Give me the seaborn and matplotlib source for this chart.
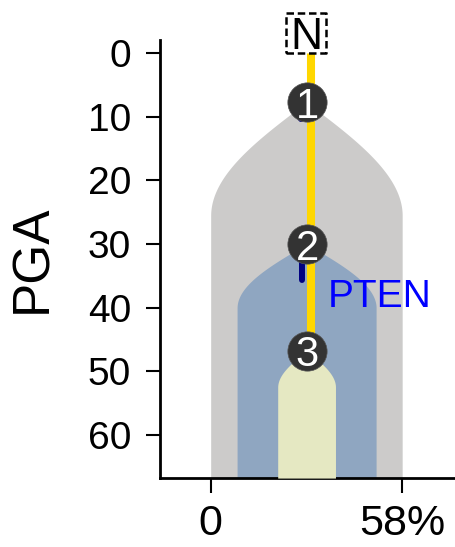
import numpy as np
import pandas as pd
import seaborn as sns
import matplotlib.pyplot as plt

# clone data (x in %, y in PGA)
clone_ids = ['1', '2', '3']
clone_left = [0.0, 8.0, 20.3]
clone_right = [58.0, 50.1, 37.8]
clone_start = [7.7, 30.0, 46.8]    # PGA where the clone is born (node position)
clone_full = [25.5, 40.0, 52.5]    # PGA where the clone reaches full width
clone_colors = ['#cccbca', '#8fa6c1', '#e5e8c2']
node_x = [29.2, 29.2, 29.2]

# trunk line from normal (N) to last node
trunk_x = [30.4, 30.4]
trunk_y = [-0.4, 46.8]
root_x, root_y = 29.0, -3.2

# mutation segments (navy) per node
mut_x = [27.5, 27.6]
mut_y0 = [7.7, 30.0]
mut_y1 = [10.4, 35.7]
driver_label = 'PTEN'
driver_x, driver_y = 35.6, 38.4

xticks = [0, 58]
xticklabels = ['0', '58%']
yticks = [0, 10, 20, 30, 40, 50, 60]

sns.set_style('ticks', {'text.color': 'black', 'xtick.color': 'black',
                        'ytick.color': 'black', 'axes.labelcolor': 'black',
                        'axes.edgecolor': 'black'})
plt.rcParams['font.family'] = ['Liberation Sans', 'DejaVu Sans']

fig = plt.figure(figsize=(4.55, 5.47), dpi=100)
ax = fig.add_axes([0.352, 0.126, 0.648, 0.801])
ymax = 66.8

# clone shapes
for i in range(len(clone_ids)):
    c = (clone_left[i] + clone_right[i]) / 2
    half = (clone_right[i] - clone_left[i]) / 2
    y = np.linspace(clone_start[i], ymax, 400)
    s = np.clip((y - clone_start[i]) / (clone_full[i] - clone_start[i]), 0, 1)
    hw = half * np.sin(np.pi / 2 * s)
    ax.fill_betweenx(y, c - hw, c + hw, color=clone_colors[i], lw=0, zorder=1 + i)

# trunk
ax.plot(trunk_x, trunk_y, color='#ffd700', linewidth=5.8, solid_capstyle='butt', zorder=5)

# mutation segments
for i in range(len(mut_x)):
    ax.plot([mut_x[i], mut_x[i]], [mut_y0[i], mut_y1[i]], color='#000080', linewidth=4.3,
            solid_capstyle='round', zorder=6)

# nodes
nodes = pd.DataFrame({'x': node_x, 'y': clone_start, 'id': clone_ids})
sns.scatterplot(data=nodes, x='x', y='y', s=800, color='#333333', edgecolor='#555555',
                linewidth=0.5, zorder=8, ax=ax)
for _, r in nodes.iterrows():
    ax.text(r['x'], r['y'], r['id'], color='white', fontsize=30, ha='center',
            va='center_baseline', zorder=9)

# root N box
ax.scatter([root_x], [root_y], marker='s', s=830, facecolors='white', edgecolors='black',
           linewidths=1.8, linestyles=(0, (3, 1.5)), zorder=8, clip_on=False)
ax.text(root_x, root_y, 'N', fontsize=32, ha='center', va='center_baseline', zorder=9,
        clip_on=False)

ax.text(driver_x, driver_y, driver_label, color='blue', fontsize=28, ha='left',
        va='center', zorder=9)

ax.set_xlim(-15.3, 74)
ax.set_ylim(ymax, -2.1)
ax.set_xticks(xticks)
ax.set_xticklabels(xticklabels)
ax.set_yticks(yticks)
ax.tick_params(axis='y', labelsize=28, length=10, width=1.5, pad=11, colors='black')
ax.tick_params(axis='x', labelsize=31, length=11, width=1.5, pad=8, colors='black')
ax.set_xlabel('')
ax.set_ylabel('PGA', fontsize=37, labelpad=22, color='black')
for sp in ['left', 'bottom']:
    ax.spines[sp].set_linewidth(2)
    ax.spines[sp].set_color('black')
sns.despine(ax=ax)

fig.savefig('out.png', dpi=100)
